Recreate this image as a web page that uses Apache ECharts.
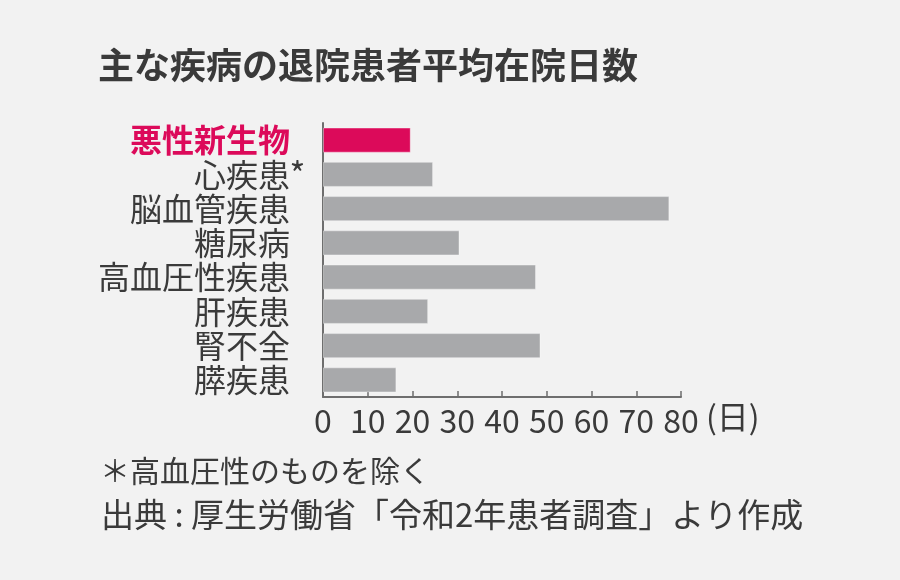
<!DOCTYPE html>
<html>
<head>
<meta charset="utf-8">
<script src="https://cdn.jsdelivr.net/npm/echarts@6/dist/echarts.min.js"></script>
<style>
  html, body { margin: 0; padding: 0; background: #f2f2f2; }
  #main { width: 900px; height: 580px; }
</style>
</head>
<body>
<div id="main"></div>
<script>
var categories = ['悪性新生物', '心疾患', '脳血管疾患', '糖尿病', '高血圧性疾患', '肝疾患', '腎不全', '膵疾患'];
var days = [19.6, 24.6, 77.4, 30.5, 47.6, 23.5, 48.6, 16.4]; // 平均在院日数
var xTicks = [0, 10, 20, 30, 40, 50, 60, 70, 80];
var highlight = 0; // 悪性新生物
var starred = 1; // 心疾患（高血圧性のものを除く）

var font = 'Noto Sans CJK JP';
var textColor = '#3a3a3a';
var pink = '#dc0a5a';
var gray = '#a8a9ab';

var chart = echarts.init(document.getElementById('main'));

var option = {
  backgroundColor: '#f2f2f2',
  animation: false,
  textStyle: { fontFamily: font },
  grid: { left: 323, right: 219, top: 123, bottom: 183 },
  xAxis: {
    type: 'value',
    min: xTicks[0],
    max: xTicks[xTicks.length - 1],
    interval: 10,
    name: '(日)',
    nameLocation: 'end',
    nameGap: 25,
    nameTextStyle: {
      fontFamily: font, fontSize: 32, color: textColor,
      align: 'left', verticalAlign: 'top', padding: [4, 0, 0, 0]
    },
    axisLine: { show: true, lineStyle: { color: '#6e6e6e', width: 2 } },
    axisTick: { show: true, inside: true, length: 6, lineStyle: { color: '#6e6e6e', width: 1.5 } },
    axisLabel: { fontFamily: font, fontSize: 32, color: textColor, margin: 8 },
    splitLine: { show: false }
  },
  yAxis: {
    type: 'category',
    inverse: true,
    data: categories,
    axisLine: { show: true, lineStyle: { color: '#6e6e6e', width: 2 } },
    axisTick: { show: false },
    axisLabel: {
      interval: 0,
      hideOverlap: false,
      showMinLabel: true,
      showMaxLabel: true,
      margin: 18,
      formatter: function(v, i) {
        var tail = i === starred ? '{ast|*}' : '{sp|*}';
        return (i === highlight ? '{hl|' : '{n|') + v + '}' + tail;
      },
      rich: {
        n: { fontFamily: font, fontSize: 32, color: textColor },
        hl: { fontFamily: font, fontSize: 32, color: pink, fontWeight: 'bold' },
        ast: { fontFamily: font, fontSize: 34, color: textColor, width: 15, align: 'left' },
        sp: { fontFamily: font, fontSize: 34, color: 'transparent', width: 15, align: 'left' }
      }
    }
  },
  series: [{
    type: 'bar',
    barCategoryGap: '27%',
    data: days.map(function(d, i) {
      return {
        value: d,
        itemStyle: { color: i === highlight ? pink : gray }
      };
    }),
    itemStyle: { borderColor: 'rgba(255,255,255,0.35)', borderWidth: 1 }
  }],
  graphic: [
    {
      type: 'text', left: 98, top: 47,
      style: { text: '主な疾病の退院患者平均在院日数', font: 'bold 36px "Noto Sans CJK JP"', fill: textColor }
    },
    {
      type: 'text', left: 100, top: 456,
      style: { text: '＊高血圧性のものを除く', font: '30px "Noto Sans CJK JP"', fill: textColor }
    },
    {
      type: 'text', left: 101, top: 498,
      style: { text: '出典 : 厚生労働省「令和2年患者調査」より作成', font: '33px "Noto Sans CJK JP"', fill: textColor }
    }
  ]
};

chart.setOption(option);
</script>
</body>
</html>
